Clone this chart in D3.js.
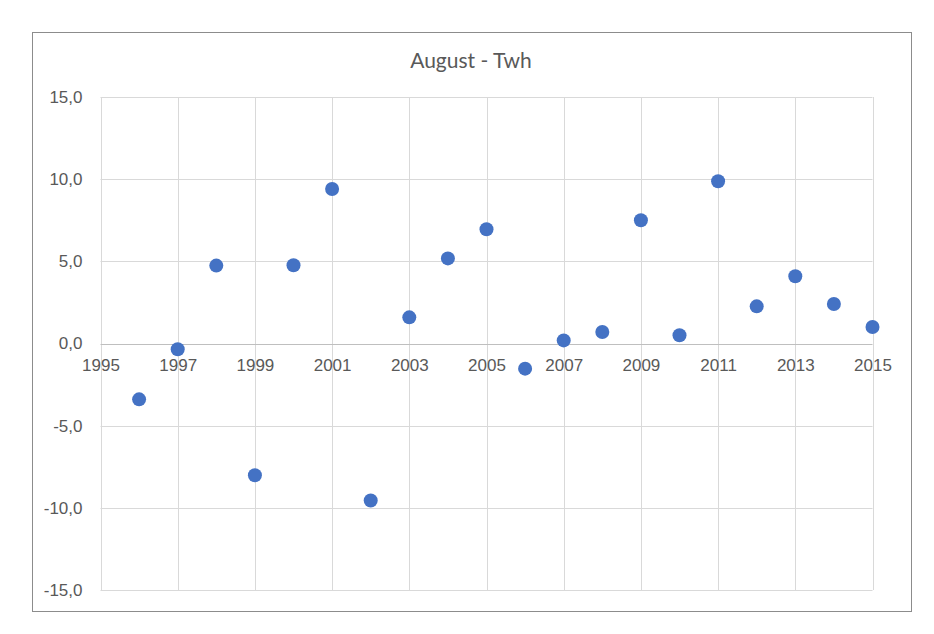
<!DOCTYPE html>
<html lang="en">
	<head>
		<meta charset="UTF-8" />
		<title>August - Twh</title>
		<script src="https://d3js.org/d3.v7.min.js"></script>
		<style>
			body {
				margin: 0;
				padding: 0;
				background: #fff;
				font-family: Lato, "Open Sans", sans-serif;
			}
			.tick text {
				fill: #595959;
				font-size: 17px;
			}
		</style>
	</head>
	<body>
		<svg width="934" height="634"></svg>
		<script>
			const years = [
				1996, 1997, 1998, 1999, 2000, 2001, 2002, 2003, 2004, 2005,
				2006, 2007, 2008, 2009, 2010, 2011, 2012, 2013, 2014, 2015,
			];
			const twh = [
				-3.4, -0.35, 4.74, -8.02, 4.76, 9.4, -9.55, 1.59, 5.18, 6.95,
				-1.53, 0.19, 0.7, 7.5, 0.5, 9.87, 2.26, 4.09, 2.4, 1.0,
			];
			const xTicks = [1995, 1997, 1999, 2001, 2003, 2005, 2007, 2009, 2011, 2013, 2015];
			const yTicks = [-15, -10, -5, 0, 5, 10, 15];

			const svg = d3.select("svg");

			// chart frame
			svg
				.append("rect")
				.attr("x", 32.5)
				.attr("y", 32.5)
				.attr("width", 879)
				.attr("height", 579)
				.attr("fill", "#fff")
				.attr("stroke", "#8c8c8c")
				.attr("stroke-width", 1);

			svg
				.append("text")
				.attr("x", 471)
				.attr("y", 68)
				.attr("text-anchor", "middle")
				.style("font-size", "21px")
				.style("fill", "#595959")
				.text("August - Twh");

			const x = d3.scaleLinear().domain([1995, 2015]).range([100.5, 872.5]);
			const y = d3.scaleLinear().domain([-15, 15]).range([590, 97]);

			// vertical gridlines
			svg
				.append("g")
				.selectAll("line")
				.data(xTicks)
				.join("line")
				.attr("x1", (d) => Math.round(x(d)) + 0.5)
				.attr("x2", (d) => Math.round(x(d)) + 0.5)
				.attr("y1", y(15))
				.attr("y2", y(-15))
				.attr("stroke", "#d9d9d9");

			// horizontal gridlines
			svg
				.append("g")
				.selectAll("line")
				.data(yTicks)
				.join("line")
				.attr("x1", x(1995))
				.attr("x2", x(2015))
				.attr("y1", (d) => Math.round(y(d)) + 0.5)
				.attr("y2", (d) => Math.round(y(d)) + 0.5)
				.attr("stroke", (d) => (d === 0 ? "#bfbfbf" : "#d9d9d9"));

			// y axis labels
			const yAxis = svg
				.append("g")
				.attr("transform", `translate(${x(1995) - 8},0)`)
				.call(
					d3
						.axisLeft(y)
						.tickValues(yTicks)
						.tickSize(0)
						.tickPadding(10)
						.tickFormat((d) => d3.format(".1f")(d).replace(".", ",").replace("−", "-"))
				);
			yAxis.select(".domain").remove();

			// x axis labels sit on the zero line
			const xAxis = svg
				.append("g")
				.attr("transform", `translate(0,${y(0) + 5})`)
				.call(d3.axisBottom(x).tickValues(xTicks).tickSize(0).tickPadding(10).tickFormat(d3.format("d")));
			xAxis.select(".domain").remove();

			// points
			svg
				.append("g")
				.selectAll("circle")
				.data(years)
				.join("circle")
				.attr("cx", (d) => x(d))
				.attr("cy", (d, i) => y(twh[i]))
				.attr("r", 7)
				.attr("fill", "#4472c4");
		</script>
	</body>
</html>
